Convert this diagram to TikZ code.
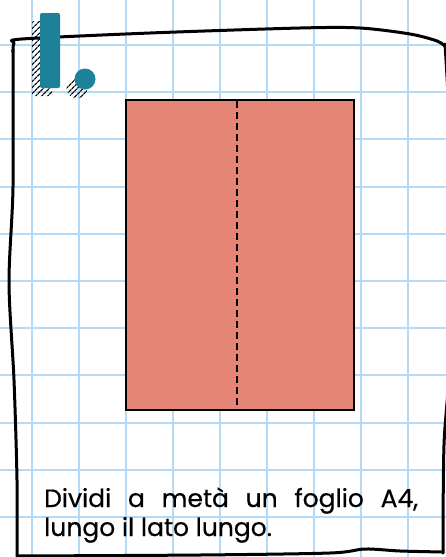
\documentclass[tikz,border=0pt]{standalone}
\usepackage{fontspec}
\setmainfont{Poppins}[FakeBold=0.5]
\usetikzlibrary{patterns.meta}
\definecolor{gridblue}{RGB}{180,218,245}
\definecolor{sheetred}{RGB}{228,133,117}
\definecolor{stepteal}{RGB}{28,129,153}
\begin{document}
\begin{tikzpicture}[x=1pt,y=-1pt]
	%%%%% START %%%%%
	\useasboundingbox (0,0) rectangle (446,557);
	\fill[white] (0,0) rectangle (446,557);

	% squared paper
	\foreach \gx in {32,79,...,450}
		\draw[gridblue, line width=2pt] (\gx,0) -- (\gx,557);
	\foreach \gy in {0,...,11}
		\draw[gridblue, line width=2pt] (0,45+47.2*\gy) -- (446,45+47.2*\gy);

	% hand drawn frame
	\draw[line width=3pt, line cap=round, line join=round] plot[smooth, tension=0.5] coordinates {(13,52) (14,43) (22,39) (150,33) (300,28) (360,28) (410,34) (437,41) (446,47)};
	\draw[line width=3pt, line cap=round] plot[smooth] coordinates {(445,44) (450,150) (450,350) (444,445) (443,553)};
	\draw[line width=3pt, line cap=round] plot[smooth] coordinates {(17,556) (200,555) (330,553) (365,549) (400,551) (443,552)};
	\draw[line width=3pt, line cap=round] plot[smooth] coordinates {(13,50) (13,187) (9,283) (14,380) (17,480) (17,556)};

	% step number
	\fill[pattern={Lines[angle=45,distance=4pt,line width=1.3pt]}, rounded corners=2pt] (32,21) rectangle (52,96);
	\fill[pattern={Lines[angle=45,distance=4pt,line width=1.3pt]}] (77,88) circle (10.5);
	\fill[stepteal, rounded corners=2pt] (40,13) rectangle (60,88);
	\fill[stepteal] (85,79) circle (10.5);

	% A4 sheet
	\draw[line width=2.5pt, fill=sheetred] (126,100) rectangle (354,410);
	\draw[line width=2.2pt, dash pattern=on 7pt off 4pt] (237,101) -- (237,409);

	\node[anchor=base west, text width=374pt, align=justify, inner sep=0pt, font=\fontsize{25}{29}\selectfont] (caption) at (44,507) {Dividi a metà un foglio A4, lungo il lato lungo.};
	%%%%% END %%%%%
\end{tikzpicture}
\end{document}
